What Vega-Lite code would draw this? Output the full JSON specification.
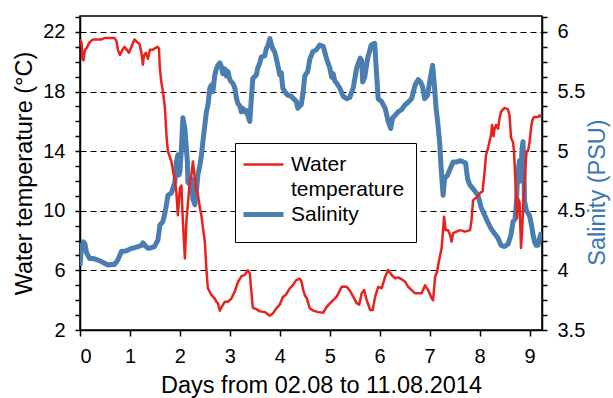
{
  "$schema": "https://vega.github.io/schema/vega-lite/v6.json",
  "width": 462,
  "height": 314,
  "autosize": {"type": "none"},
  "padding": {"left": 80, "top": 16, "right": 71, "bottom": 68},
  "background": "white",
  "config": {
    "font": "Liberation Sans",
    "view": {"stroke": "black", "strokeWidth": 1.5},
    "axis": {
      "domainColor": "black",
      "domainWidth": 1.5,
      "tickColor": "black",
      "tickWidth": 1.5,
      "labelColor": "black",
      "titleColor": "black",
      "labelFontSize": 20,
      "titleFontSize": 23.5,
      "titleFontWeight": "normal",
      "labelFont": "Liberation Sans",
      "titleFont": "Liberation Sans"
    }
  },
  "datasets": {
    "temp": [
      {"day": 0.00, "temp": 21.5}, {"day": 0.03, "temp": 21.3}, {"day": 0.05, "temp": 20.2}, {"day": 0.07, "temp": 20.1},
      {"day": 0.10, "temp": 20.8}, {"day": 0.13, "temp": 20.9}, {"day": 0.19, "temp": 21.3}, {"day": 0.26, "temp": 21.5},
      {"day": 0.33, "temp": 21.5}, {"day": 0.43, "temp": 21.5}, {"day": 0.50, "temp": 21.6}, {"day": 0.56, "temp": 21.6},
      {"day": 0.63, "temp": 21.6}, {"day": 0.69, "temp": 21.6}, {"day": 0.73, "temp": 21.4}, {"day": 0.76, "temp": 20.8},
      {"day": 0.80, "temp": 20.45}, {"day": 0.85, "temp": 20.8}, {"day": 0.89, "temp": 21.0}, {"day": 0.94, "temp": 20.8},
      {"day": 0.98, "temp": 20.6}, {"day": 1.03, "temp": 21.0}, {"day": 1.09, "temp": 21.5}, {"day": 1.15, "temp": 21.3},
      {"day": 1.19, "temp": 21.2}, {"day": 1.23, "temp": 20.6}, {"day": 1.26, "temp": 19.8}, {"day": 1.28, "temp": 20.4},
      {"day": 1.32, "temp": 20.6}, {"day": 1.36, "temp": 20.2}, {"day": 1.40, "temp": 20.8}, {"day": 1.45, "temp": 20.8},
      {"day": 1.50, "temp": 20.9}, {"day": 1.55, "temp": 21.0}, {"day": 1.58, "temp": 20.9}, {"day": 1.60, "temp": 19.5},
      {"day": 1.63, "temp": 18.6}, {"day": 1.66, "temp": 18.0}, {"day": 1.70, "temp": 16.9}, {"day": 1.73, "temp": 15.1},
      {"day": 1.76, "temp": 14.0}, {"day": 1.83, "temp": 13.3}, {"day": 1.90, "temp": 12.0}, {"day": 1.93, "temp": 11.2},
      {"day": 1.96, "temp": 9.7}, {"day": 2.00, "temp": 11.5}, {"day": 2.03, "temp": 11.7}, {"day": 2.06, "temp": 9.3},
      {"day": 2.10, "temp": 6.8}, {"day": 2.13, "temp": 9.3}, {"day": 2.20, "temp": 12.0}, {"day": 2.23, "temp": 12.4},
      {"day": 2.26, "temp": 13.3}, {"day": 2.30, "temp": 12.2}, {"day": 2.33, "temp": 11.3}, {"day": 2.36, "temp": 11.1},
      {"day": 2.40, "temp": 10.2}, {"day": 2.43, "temp": 9.7}, {"day": 2.50, "temp": 7.9}, {"day": 2.53, "temp": 6.1},
      {"day": 2.56, "temp": 4.8}, {"day": 2.63, "temp": 4.35}, {"day": 2.70, "temp": 4.1}, {"day": 2.73, "temp": 3.9},
      {"day": 2.76, "temp": 3.8}, {"day": 2.80, "temp": 3.3}, {"day": 2.83, "temp": 3.5}, {"day": 2.90, "temp": 3.9},
      {"day": 2.96, "temp": 3.9}, {"day": 3.03, "temp": 4.1}, {"day": 3.10, "temp": 4.6}, {"day": 3.16, "temp": 5.2},
      {"day": 3.23, "temp": 5.6}, {"day": 3.30, "temp": 5.7}, {"day": 3.36, "temp": 6.0}, {"day": 3.40, "temp": 5.8},
      {"day": 3.43, "temp": 4.6}, {"day": 3.46, "temp": 3.5}, {"day": 3.53, "temp": 3.4}, {"day": 3.60, "temp": 3.25},
      {"day": 3.70, "temp": 3.2}, {"day": 3.80, "temp": 2.95}, {"day": 3.86, "temp": 3.1}, {"day": 3.93, "temp": 3.45},
      {"day": 4.00, "temp": 3.7}, {"day": 4.06, "temp": 4.2}, {"day": 4.13, "temp": 4.4}, {"day": 4.20, "temp": 4.8},
      {"day": 4.26, "temp": 5.0}, {"day": 4.33, "temp": 5.35}, {"day": 4.40, "temp": 5.45}, {"day": 4.43, "temp": 5.3},
      {"day": 4.47, "temp": 4.68}, {"day": 4.50, "temp": 4.35}, {"day": 4.54, "temp": 4.13}, {"day": 4.60, "temp": 3.46},
      {"day": 4.67, "temp": 3.3}, {"day": 4.77, "temp": 3.2}, {"day": 4.87, "temp": 3.16}, {"day": 4.94, "temp": 3.56},
      {"day": 5.04, "temp": 3.9}, {"day": 5.14, "temp": 4.24}, {"day": 5.24, "temp": 4.9}, {"day": 5.34, "temp": 4.9},
      {"day": 5.41, "temp": 4.6}, {"day": 5.47, "temp": 4.24}, {"day": 5.54, "temp": 3.8}, {"day": 5.59, "temp": 3.7},
      {"day": 5.64, "temp": 4.46}, {"day": 5.69, "temp": 4.68}, {"day": 5.74, "temp": 4.0}, {"day": 5.81, "temp": 3.34},
      {"day": 5.86, "temp": 3.34}, {"day": 5.91, "temp": 4.24}, {"day": 5.97, "temp": 4.9}, {"day": 6.04, "temp": 4.8},
      {"day": 6.11, "temp": 5.58}, {"day": 6.17, "temp": 6.03}, {"day": 6.24, "temp": 5.69}, {"day": 6.31, "temp": 5.47},
      {"day": 6.37, "temp": 5.53}, {"day": 6.44, "temp": 5.4}, {"day": 6.51, "temp": 5.24}, {"day": 6.57, "temp": 4.9},
      {"day": 6.64, "temp": 4.68}, {"day": 6.71, "temp": 4.46}, {"day": 6.84, "temp": 4.46}, {"day": 6.91, "temp": 5.0},
      {"day": 6.97, "temp": 4.68}, {"day": 7.04, "temp": 4.13}, {"day": 7.07, "temp": 4.0}, {"day": 7.11, "temp": 5.58},
      {"day": 7.15, "temp": 5.91}, {"day": 7.19, "temp": 6.7}, {"day": 7.24, "temp": 7.48}, {"day": 7.29, "temp": 9.6},
      {"day": 7.32, "temp": 8.7}, {"day": 7.37, "temp": 8.7}, {"day": 7.41, "temp": 8.38}, {"day": 7.44, "temp": 7.93},
      {"day": 7.47, "temp": 8.5}, {"day": 7.54, "temp": 8.6}, {"day": 7.61, "temp": 8.7}, {"day": 7.71, "temp": 8.6},
      {"day": 7.81, "temp": 8.7}, {"day": 7.84, "temp": 9.4}, {"day": 7.87, "temp": 10.7}, {"day": 7.94, "temp": 10.9},
      {"day": 8.01, "temp": 11.2}, {"day": 8.06, "temp": 11.3}, {"day": 8.10, "temp": 12.6}, {"day": 8.13, "temp": 13.75},
      {"day": 8.17, "temp": 14.2}, {"day": 8.23, "temp": 15.1}, {"day": 8.25, "temp": 15.76}, {"day": 8.28, "temp": 15.0},
      {"day": 8.30, "temp": 15.5}, {"day": 8.33, "temp": 15.76}, {"day": 8.37, "temp": 15.5}, {"day": 8.40, "temp": 16.2},
      {"day": 8.43, "temp": 16.65}, {"day": 8.50, "temp": 16.9}, {"day": 8.57, "temp": 16.8}, {"day": 8.60, "temp": 16.4},
      {"day": 8.63, "temp": 14.9}, {"day": 8.67, "temp": 14.6}, {"day": 8.69, "temp": 14.0}, {"day": 8.71, "temp": 12.5},
      {"day": 8.73, "temp": 11.2}, {"day": 8.75, "temp": 9.5}, {"day": 8.77, "temp": 10.8}, {"day": 8.80, "temp": 10.6},
      {"day": 8.83, "temp": 7.5}, {"day": 8.85, "temp": 8.5}, {"day": 8.88, "temp": 10.8}, {"day": 8.94, "temp": 14.0},
      {"day": 8.97, "temp": 14.0}, {"day": 9.00, "temp": 14.6}, {"day": 9.04, "temp": 15.8}, {"day": 9.07, "temp": 16.2},
      {"day": 9.10, "temp": 16.3}, {"day": 9.17, "temp": 16.3}, {"day": 9.20, "temp": 16.4}, {"day": 9.24, "temp": 16.3}
    ],
    "sal": [
      {"day": 0.00, "sal": 4.04}, {"day": 0.03, "sal": 4.19}, {"day": 0.07, "sal": 4.24}, {"day": 0.10, "sal": 4.22},
      {"day": 0.13, "sal": 4.15}, {"day": 0.19, "sal": 4.10}, {"day": 0.26, "sal": 4.10}, {"day": 0.33, "sal": 4.09},
      {"day": 0.40, "sal": 4.08}, {"day": 0.49, "sal": 4.06}, {"day": 0.56, "sal": 4.045}, {"day": 0.63, "sal": 4.05},
      {"day": 0.69, "sal": 4.05}, {"day": 0.76, "sal": 4.09}, {"day": 0.83, "sal": 4.16}, {"day": 0.89, "sal": 4.16},
      {"day": 0.96, "sal": 4.17}, {"day": 1.03, "sal": 4.185}, {"day": 1.09, "sal": 4.19}, {"day": 1.16, "sal": 4.20},
      {"day": 1.23, "sal": 4.21}, {"day": 1.26, "sal": 4.23}, {"day": 1.30, "sal": 4.21}, {"day": 1.36, "sal": 4.185},
      {"day": 1.43, "sal": 4.19}, {"day": 1.49, "sal": 4.20}, {"day": 1.56, "sal": 4.255}, {"day": 1.60, "sal": 4.38},
      {"day": 1.66, "sal": 4.41}, {"day": 1.70, "sal": 4.48}, {"day": 1.73, "sal": 4.55}, {"day": 1.76, "sal": 4.63},
      {"day": 1.83, "sal": 4.65}, {"day": 1.86, "sal": 4.69}, {"day": 1.90, "sal": 4.74}, {"day": 1.93, "sal": 4.91},
      {"day": 1.96, "sal": 4.97}, {"day": 1.98, "sal": 4.80}, {"day": 2.00, "sal": 4.83}, {"day": 2.03, "sal": 5.02},
      {"day": 2.06, "sal": 5.28}, {"day": 2.10, "sal": 5.19}, {"day": 2.13, "sal": 5.02}, {"day": 2.15, "sal": 4.91},
      {"day": 2.16, "sal": 4.74}, {"day": 2.20, "sal": 4.72}, {"day": 2.23, "sal": 4.77}, {"day": 2.26, "sal": 4.60},
      {"day": 2.30, "sal": 4.55}, {"day": 2.33, "sal": 4.66}, {"day": 2.36, "sal": 4.80}, {"day": 2.40, "sal": 4.88},
      {"day": 2.43, "sal": 4.96}, {"day": 2.46, "sal": 5.08}, {"day": 2.50, "sal": 5.22}, {"day": 2.53, "sal": 5.33},
      {"day": 2.56, "sal": 5.38}, {"day": 2.60, "sal": 5.53}, {"day": 2.63, "sal": 5.555}, {"day": 2.66, "sal": 5.50},
      {"day": 2.70, "sal": 5.64}, {"day": 2.73, "sal": 5.69}, {"day": 2.76, "sal": 5.72}, {"day": 2.80, "sal": 5.74},
      {"day": 2.83, "sal": 5.71}, {"day": 2.86, "sal": 5.65}, {"day": 2.90, "sal": 5.69}, {"day": 2.93, "sal": 5.63},
      {"day": 2.96, "sal": 5.67}, {"day": 3.00, "sal": 5.60}, {"day": 3.03, "sal": 5.58}, {"day": 3.06, "sal": 5.57},
      {"day": 3.10, "sal": 5.53}, {"day": 3.13, "sal": 5.45}, {"day": 3.16, "sal": 5.40}, {"day": 3.20, "sal": 5.38},
      {"day": 3.23, "sal": 5.33}, {"day": 3.26, "sal": 5.36}, {"day": 3.30, "sal": 5.33}, {"day": 3.33, "sal": 5.34},
      {"day": 3.36, "sal": 5.30}, {"day": 3.40, "sal": 5.25}, {"day": 3.43, "sal": 5.44}, {"day": 3.46, "sal": 5.61},
      {"day": 3.53, "sal": 5.64}, {"day": 3.56, "sal": 5.70}, {"day": 3.60, "sal": 5.74}, {"day": 3.63, "sal": 5.79},
      {"day": 3.70, "sal": 5.80}, {"day": 3.73, "sal": 5.86}, {"day": 3.76, "sal": 5.88}, {"day": 3.80, "sal": 5.945},
      {"day": 3.83, "sal": 5.90}, {"day": 3.86, "sal": 5.86}, {"day": 3.90, "sal": 5.83}, {"day": 3.93, "sal": 5.78},
      {"day": 3.96, "sal": 5.72}, {"day": 4.00, "sal": 5.64}, {"day": 4.03, "sal": 5.66}, {"day": 4.06, "sal": 5.53},
      {"day": 4.10, "sal": 5.50}, {"day": 4.16, "sal": 5.47}, {"day": 4.23, "sal": 5.46}, {"day": 4.30, "sal": 5.43},
      {"day": 4.33, "sal": 5.42}, {"day": 4.36, "sal": 5.36}, {"day": 4.40, "sal": 5.38}, {"day": 4.43, "sal": 5.39},
      {"day": 4.46, "sal": 5.47}, {"day": 4.50, "sal": 5.63}, {"day": 4.53, "sal": 5.65}, {"day": 4.56, "sal": 5.67},
      {"day": 4.60, "sal": 5.77}, {"day": 4.63, "sal": 5.80}, {"day": 4.66, "sal": 5.835}, {"day": 4.73, "sal": 5.85},
      {"day": 4.80, "sal": 5.89}, {"day": 4.87, "sal": 5.88}, {"day": 4.94, "sal": 5.77}, {"day": 5.00, "sal": 5.70},
      {"day": 5.04, "sal": 5.62}, {"day": 5.07, "sal": 5.65}, {"day": 5.10, "sal": 5.59}, {"day": 5.14, "sal": 5.57},
      {"day": 5.20, "sal": 5.53}, {"day": 5.27, "sal": 5.46}, {"day": 5.34, "sal": 5.44}, {"day": 5.40, "sal": 5.45},
      {"day": 5.47, "sal": 5.53}, {"day": 5.54, "sal": 5.70}, {"day": 5.61, "sal": 5.78}, {"day": 5.64, "sal": 5.76},
      {"day": 5.66, "sal": 5.58}, {"day": 5.70, "sal": 5.62}, {"day": 5.76, "sal": 5.78}, {"day": 5.83, "sal": 5.89},
      {"day": 5.90, "sal": 5.905}, {"day": 5.93, "sal": 5.70}, {"day": 5.97, "sal": 5.44}, {"day": 6.04, "sal": 5.415},
      {"day": 6.11, "sal": 5.36}, {"day": 6.17, "sal": 5.25}, {"day": 6.22, "sal": 5.19}, {"day": 6.26, "sal": 5.28},
      {"day": 6.31, "sal": 5.30}, {"day": 6.37, "sal": 5.33}, {"day": 6.44, "sal": 5.35}, {"day": 6.51, "sal": 5.39},
      {"day": 6.57, "sal": 5.41}, {"day": 6.64, "sal": 5.44}, {"day": 6.71, "sal": 5.555}, {"day": 6.77, "sal": 5.60},
      {"day": 6.82, "sal": 5.58}, {"day": 6.86, "sal": 5.54}, {"day": 6.90, "sal": 5.44}, {"day": 6.96, "sal": 5.47},
      {"day": 7.00, "sal": 5.58}, {"day": 7.06, "sal": 5.72}, {"day": 7.09, "sal": 5.58}, {"day": 7.13, "sal": 5.36},
      {"day": 7.16, "sal": 5.25}, {"day": 7.20, "sal": 5.08}, {"day": 7.23, "sal": 4.86}, {"day": 7.27, "sal": 4.63},
      {"day": 7.30, "sal": 4.77}, {"day": 7.36, "sal": 4.80}, {"day": 7.40, "sal": 4.84}, {"day": 7.47, "sal": 4.91},
      {"day": 7.55, "sal": 4.91}, {"day": 7.62, "sal": 4.92}, {"day": 7.72, "sal": 4.90}, {"day": 7.76, "sal": 4.77},
      {"day": 7.80, "sal": 4.72}, {"day": 7.86, "sal": 4.69}, {"day": 7.97, "sal": 4.63}, {"day": 8.03, "sal": 4.53},
      {"day": 8.10, "sal": 4.465}, {"day": 8.17, "sal": 4.40}, {"day": 8.23, "sal": 4.35}, {"day": 8.30, "sal": 4.31},
      {"day": 8.37, "sal": 4.27}, {"day": 8.43, "sal": 4.21}, {"day": 8.50, "sal": 4.20}, {"day": 8.57, "sal": 4.22},
      {"day": 8.63, "sal": 4.30}, {"day": 8.67, "sal": 4.41}, {"day": 8.71, "sal": 4.43}, {"day": 8.74, "sal": 4.58},
      {"day": 8.76, "sal": 4.80}, {"day": 8.80, "sal": 4.92}, {"day": 8.82, "sal": 4.75}, {"day": 8.85, "sal": 5.02},
      {"day": 8.87, "sal": 5.08}, {"day": 8.89, "sal": 4.80}, {"day": 8.90, "sal": 4.58}, {"day": 8.94, "sal": 4.50},
      {"day": 9.00, "sal": 4.46}, {"day": 9.04, "sal": 4.38}, {"day": 9.07, "sal": 4.30}, {"day": 9.10, "sal": 4.24},
      {"day": 9.13, "sal": 4.21}, {"day": 9.17, "sal": 4.21}, {"day": 9.20, "sal": 4.27}, {"day": 9.24, "sal": 4.32}
    ]
  },
  "layer": [
    {
      "data": {"name": "sal"},
      "mark": {"type": "line", "strokeWidth": 5, "strokeJoin": "round", "clip": true},
      "encoding": {
        "x": {
          "field": "day", "type": "quantitative",
          "scale": {"domain": [0, 9.25], "nice": false, "zero": false},
          "axis": {
            "values": [0,0.25,0.5,0.75,1,1.25,1.5,1.75,2,2.25,2.5,2.75,3,3.25,3.5,3.75,4,4.25,4.5,4.75,5,5.25,5.5,5.75,6,6.25,6.5,6.75,7,7.25,7.5,7.75,8,8.25,8.5,8.75,9],
            "labelExpr": "datum.value % 1 === 0 ? format(datum.value, 'd') : ''",
            "tickSize": {"condition": {"test": "datum.value % 1 === 0", "value": 6}, "value": 4},
            "grid": false,
            "labelPadding": 10,
            "title": "Days from 02.08 to 11.08.2014",
            "titleX": 241,
            "titleY": 55,
            "titleBaseline": "middle",
            "titleAlign": "center"
          }
        },
        "y": {
          "field": "sal", "type": "quantitative",
          "scale": {"domain": [3.5, 6.134], "nice": false, "zero": false},
          "axis": {
            "orient": "right",
            "values": [3.5,3.625,3.75,3.875,4,4.125,4.25,4.375,4.5,4.625,4.75,4.875,5,5.125,5.25,5.375,5.5,5.625,5.75,5.875,6,6.125],
            "labelExpr": "datum.value % 0.5 === 0 ? format(datum.value, '') : ''",
            "tickSize": 5,
            "grid": false,
            "labelPadding": 10,
            "title": "Salinity (PSU)",
            "titleColor": "#3b78b2",
            "titleAngle": 270,
            "titleX": 55,
            "titleY": 176,
            "titleBaseline": "middle",
            "titleAlign": "center"
          }
        },
        "color": {
          "datum": "Salinity",
          "type": "nominal",
          "scale": {"domain": ["Water temperature", "Salinity"], "range": ["#e8231d", "#4a7db0"]},
          "legend": {
            "orient": "none",
            "legendX": 155,
            "legendY": 127,
            "title": null,
            "symbolType": "stroke",
            "symbolSize": 1600,
            "symbolStrokeWidth": 3,
            "symbolOffset": 7,
            "labelFontSize": 21,
            "labelFont": "Liberation Sans",
            "labelColor": "black",
            "labelOffset": 17,
            "labelExpr": "datum.value === 'Water temperature' ? ['Water', 'temperature'] : ['Salinity', '']",
            "strokeColor": "black",
            "fillColor": "white",
            "padding": 11,
            "rowPadding": 3,
            "encode": {
              "symbols": {"update": {"strokeWidth": {"signal": "datum.value === 'Salinity' ? 5 : 2.5"}}},
              "labels": {"update": {"lineHeight": {"signal": "datum.value === 'Salinity' ? 6 : 25"}}}
            }
          }
        }
      }
    },
    {
      "data": {"name": "temp"},
      "mark": {"type": "line", "strokeWidth": 2.5, "strokeJoin": "round", "clip": true},
      "encoding": {
        "x": {"field": "day", "type": "quantitative"},
        "y": {
          "field": "temp", "type": "quantitative",
          "scale": {"domain": [2, 23.07], "nice": false, "zero": false},
          "axis": {
            "orient": "left",
            "values": [2,3,4,5,6,7,8,9,10,11,12,13,14,15,16,17,18,19,20,21,22,23],
            "labelExpr": "(datum.value - 2) % 4 === 0 ? format(datum.value, 'd') : ''",
            "tickSize": 5,
            "labelPadding": 10,
            "grid": true,
            "gridColor": "black",
            "gridDash": [6, 4],
            "gridWidth": 1.2,
            "gridOpacity": {"condition": {"test": "(datum.value - 2) % 4 === 0 && datum.value > 2", "value": 1}, "value": 0},
            "title": "Water temperature  (°C)",
            "titleAngle": 270,
            "titleX": -56,
            "titleY": 157,
            "titleBaseline": "middle",
            "titleAlign": "center"
          }
        },
        "color": {"datum": "Water temperature", "type": "nominal"}
      }
    }
  ],
  "resolve": {"scale": {"y": "independent"}}
}
